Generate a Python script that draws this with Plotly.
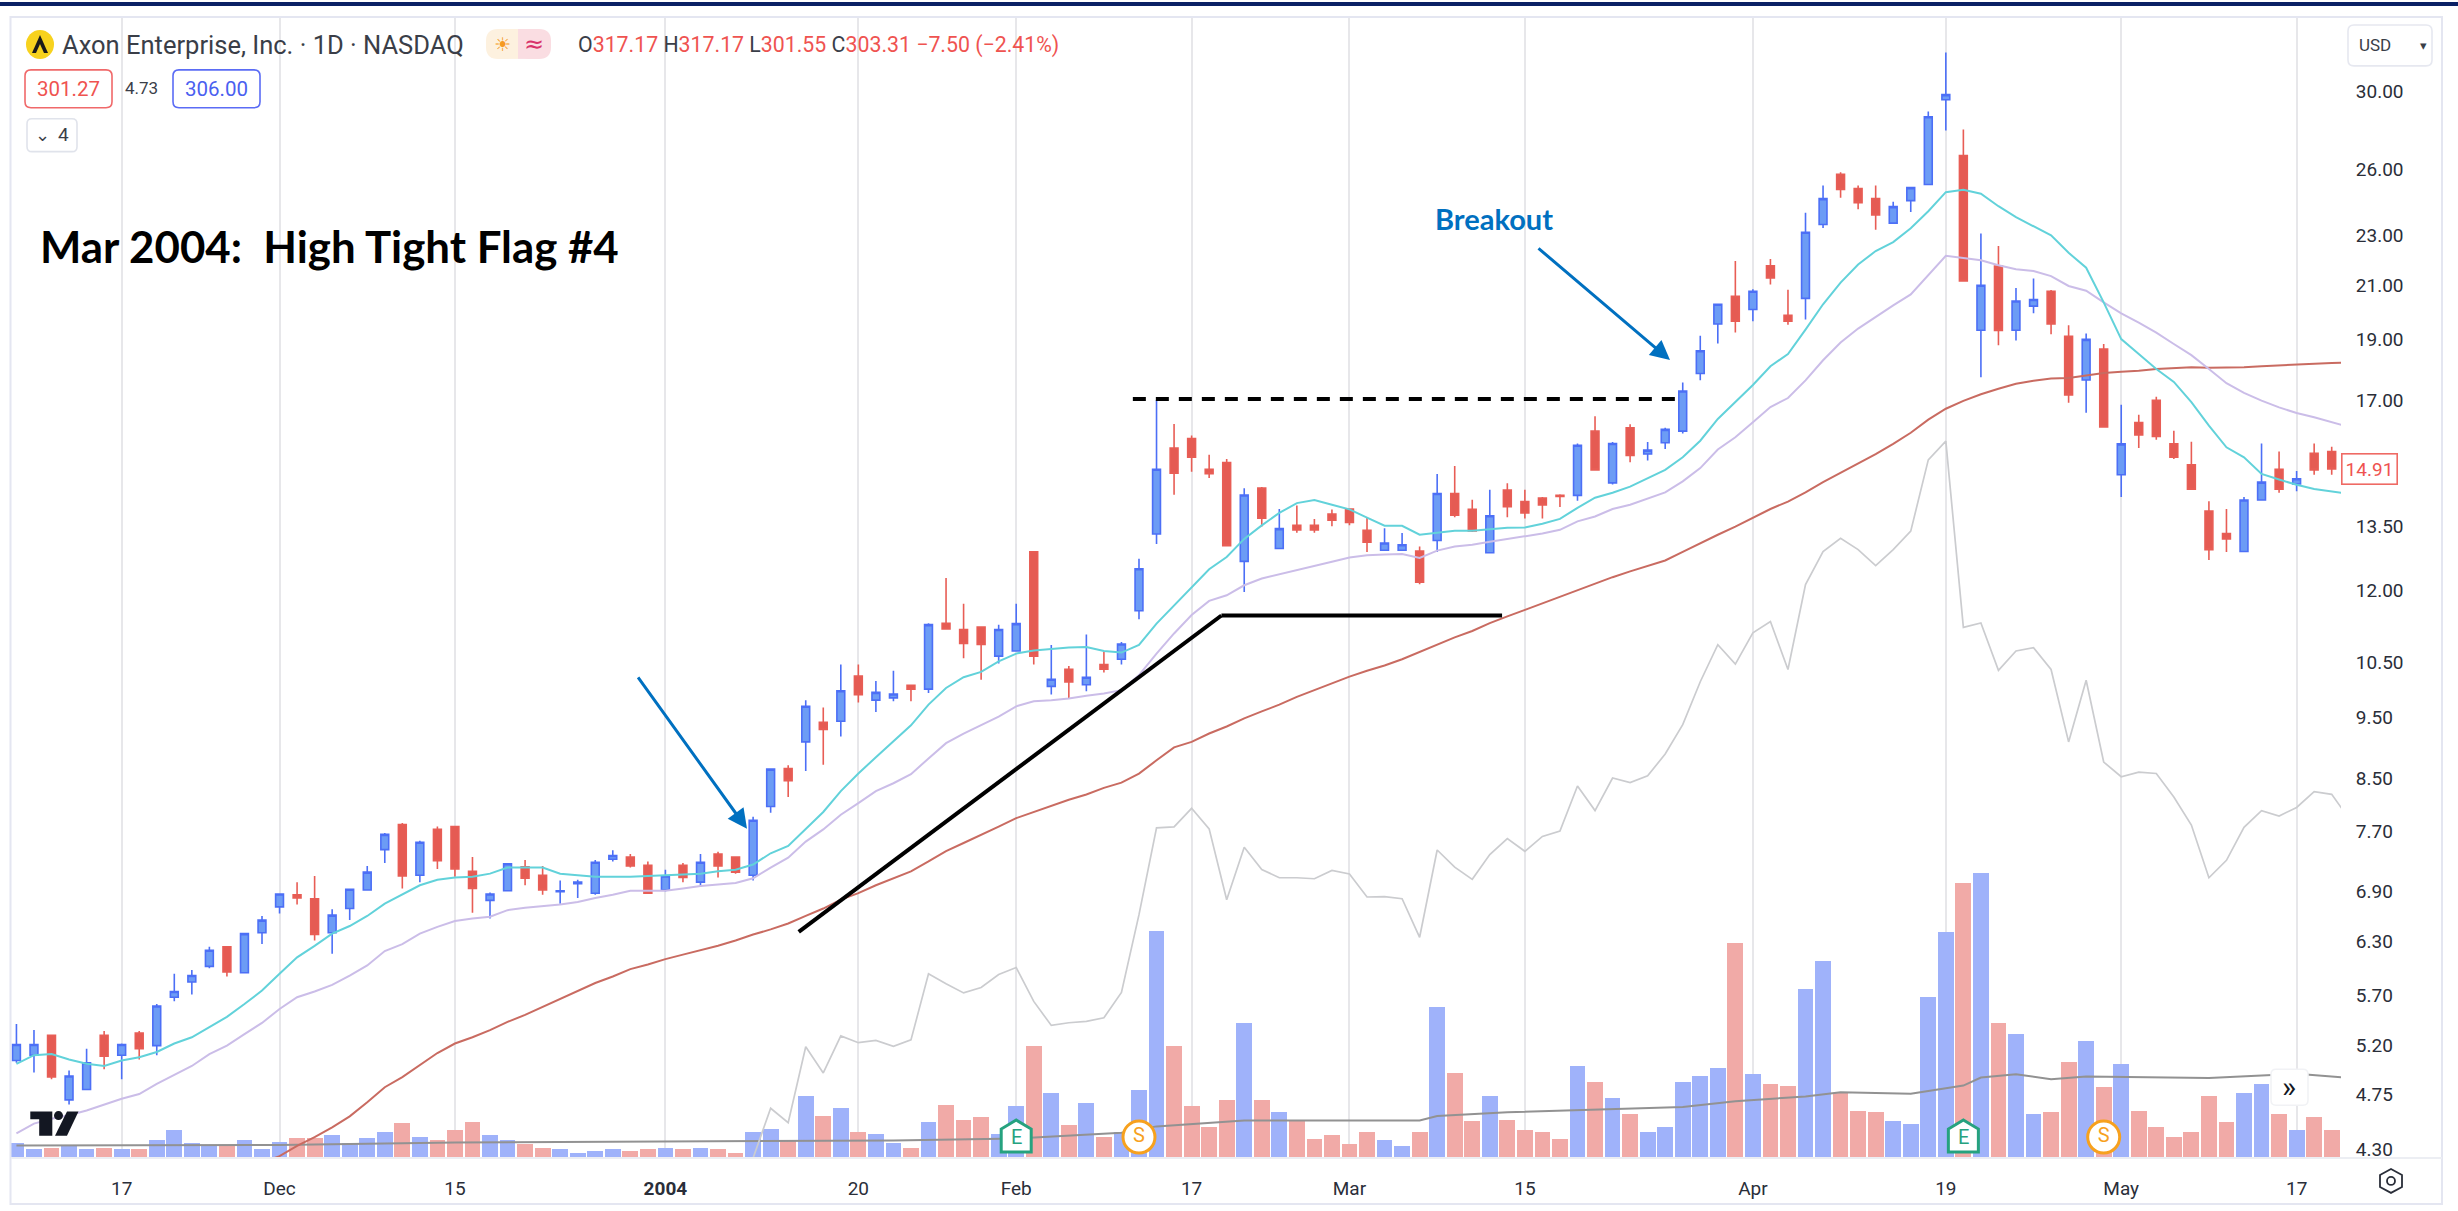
import math
import pandas as pd
import plotly.graph_objects as go

# ---------- data ----------
holidays = ["2003-11-27", "2003-12-25", "2004-01-01", "2004-01-19", "2004-02-16", "2004-04-09"]
sessions = [d.strftime("%Y-%m-%d") for d in pd.bdate_range("2003-11-07", "2004-05-20") if d.strftime("%Y-%m-%d") not in holidays]
candle_dates = sessions[:-1]

opens = [5.03,5.08,5.27,4.68,4.77,5.27,5.08,5.29,5.17,5.65,5.81,5.98,6.20,5.91,6.36,6.67,6.82,6.77,6.36,6.65,
 6.88,7.41,7.76,7.07,7.69,7.73,7.12,6.75,6.87,7.18,7.07,6.86,6.96,6.84,7.28,7.31,7.20,6.88,7.20,6.98,
 7.35,7.31,7.07,8.02,8.60,9.03,9.36,9.38,10.19,9.75,9.79,10.02,9.95,11.23,11.10,11.15,10.57,10.67,12.80,10.00,
 10.32,10.03,10.41,10.51,11.49,13.23,15.49,15.76,14.90,15.08,12.58,14.39,12.88,13.44,13.44,13.72,13.85,13.32,12.84,12.84,
 12.82,13.07,14.25,13.84,12.78,14.34,14.04,14.13,14.20,14.20,15.98,14.53,16.08,15.32,15.64,15.98,17.76,19.45,20.47,19.98,
 21.65,19.77,20.39,23.35,25.61,24.95,24.49,23.41,24.40,25.13,29.36,26.51,19.23,21.64,19.23,20.10,20.66,19.02,17.55,18.58,
 14.75,16.23,16.91,15.61,15.02,13.80,13.24,12.81,14.08,14.90,14.50,15.34,15.39]
highs = [5.38,5.32,5.27,4.94,5.14,5.31,5.19,5.31,5.58,5.90,5.94,6.20,6.20,6.35,6.56,6.83,6.98,7.06,6.64,6.89,
 7.19,7.64,7.78,7.53,7.73,7.73,7.31,6.85,7.22,7.27,7.19,7.00,7.01,7.27,7.40,7.35,7.25,7.14,7.23,7.35,
 7.38,7.31,7.87,8.59,8.65,9.75,9.62,10.41,10.41,10.10,10.29,10.02,11.23,12.20,11.64,11.16,11.20,11.64,12.80,10.79,
 10.38,11.00,10.66,10.85,12.64,16.92,16.19,15.85,15.30,15.18,14.39,14.42,13.85,13.94,13.60,13.84,13.85,13.64,13.37,13.25,
 12.93,14.77,14.99,14.09,14.35,14.52,14.35,14.16,14.23,15.62,16.42,15.66,16.18,15.66,16.08,17.47,19.04,20.17,21.84,20.73,
 21.92,20.72,23.86,25.09,25.70,25.09,25.09,24.35,25.00,28.74,32.02,27.80,22.97,22.45,20.78,21.15,20.71,19.41,19.12,18.75,
 16.77,16.47,17.02,15.99,15.67,14.05,13.85,14.16,15.62,15.39,14.85,15.62,15.53]
lows = [5.01,4.92,4.86,4.64,4.77,4.95,4.86,5.04,5.08,5.61,5.68,5.96,5.87,5.91,6.23,6.59,6.70,6.27,6.12,6.51,
 6.88,7.23,6.90,6.98,7.15,7.05,6.60,6.53,6.87,6.94,6.82,6.71,6.78,6.82,7.25,7.17,6.84,6.86,6.98,6.92,
 7.04,7.09,7.00,7.93,8.16,8.56,8.66,9.12,9.71,9.54,9.73,9.73,9.88,11.11,10.53,10.12,10.43,10.67,10.41,9.85,
 9.77,9.91,10.26,10.41,11.31,12.99,14.22,14.83,14.66,12.95,11.89,13.41,12.88,13.26,13.26,13.42,13.44,12.80,12.84,12.84,
 12.06,12.80,13.64,13.28,12.78,13.64,13.61,13.61,13.90,14.06,14.88,14.49,15.09,15.14,15.46,15.91,17.54,18.77,19.15,19.55,
 20.92,19.43,19.61,23.20,24.53,24.02,23.13,23.41,23.89,25.13,27.75,21.05,17.64,18.71,18.87,19.84,19.09,16.83,16.53,16.10,
 14.16,15.49,15.73,15.18,14.36,12.61,12.80,12.81,14.08,14.27,14.31,14.75,14.75]
closes = [5.18,5.18,4.88,4.89,5.01,5.07,5.18,5.14,5.56,5.71,5.88,6.16,5.92,6.35,6.51,6.83,6.78,6.34,6.57,6.89,
 7.11,7.62,7.06,7.51,7.26,7.15,6.90,6.83,7.22,7.03,6.88,6.87,6.98,7.24,7.33,7.19,6.84,7.06,7.04,7.24,
 7.19,7.11,7.82,8.59,8.41,9.64,9.24,9.92,9.85,9.89,9.86,9.95,11.20,11.11,10.82,10.80,11.10,11.22,10.57,10.13,
 10.08,10.17,10.32,10.81,12.41,14.90,14.79,15.23,14.78,12.95,14.21,13.62,13.36,13.33,13.33,13.57,13.51,13.03,13.01,12.97,
 12.11,14.25,13.69,13.30,13.68,13.91,13.75,13.95,14.17,15.57,14.88,15.62,15.28,15.43,16.03,17.20,18.52,20.17,19.55,20.66,
 21.17,19.55,23.02,24.49,24.90,24.31,23.76,24.13,24.99,28.46,29.64,21.05,20.89,19.22,20.29,20.35,19.45,17.08,18.91,16.10,
 15.61,15.87,15.82,15.23,14.36,12.85,13.11,14.08,14.55,14.36,14.64,14.88,14.91]

ema_fast = [5.00,5.08,5.09,5.04,5.00,4.98,5.03,5.06,5.11,5.19,5.25,5.35,5.45,5.58,5.72,5.90,6.08,6.21,6.35,6.44,
 6.56,6.71,6.82,6.94,7.01,7.04,7.05,7.09,7.17,7.17,7.17,7.09,7.07,7.05,7.05,7.05,7.06,7.07,7.08,7.09,
 7.12,7.14,7.21,7.36,7.46,7.70,7.94,8.25,8.52,8.78,9.04,9.31,9.67,9.97,10.17,10.27,10.47,10.62,10.68,10.71,
 10.74,10.75,10.67,10.64,10.79,11.22,11.60,11.98,12.40,12.68,13.11,13.44,13.75,14.00,14.08,13.96,13.84,13.63,13.43,13.43,
 13.21,13.26,13.31,13.31,13.34,13.38,13.39,13.48,13.60,13.88,14.14,14.27,14.43,14.65,14.88,15.23,15.70,16.34,16.85,17.39,
 18.00,18.41,19.25,20.17,20.99,21.70,22.24,22.61,23.19,23.93,24.78,24.89,24.71,24.15,23.67,23.28,22.89,22.17,21.57,20.24,
 18.92,18.41,17.91,17.49,16.85,16.14,15.51,15.23,14.77,14.62,14.48,14.37,14.30,14.24]
ema_slow = [4.40,4.48,4.52,4.55,4.59,4.64,4.69,4.73,4.82,4.90,4.98,5.09,5.17,5.28,5.39,5.53,5.65,5.71,5.78,5.88,
 5.99,6.15,6.23,6.35,6.43,6.50,6.53,6.55,6.63,6.66,6.68,6.70,6.73,6.78,6.82,6.87,6.87,6.87,6.90,6.93,
 6.95,6.97,7.03,7.17,7.30,7.52,7.69,7.90,8.07,8.25,8.37,8.51,8.76,9.01,9.17,9.32,9.46,9.64,9.73,9.75,
 9.78,9.83,9.87,9.93,10.21,10.62,11.02,11.40,11.70,11.82,12.04,12.19,12.28,12.37,12.47,12.57,12.67,12.72,12.74,12.75,
 12.66,12.83,12.93,12.97,13.04,13.11,13.18,13.24,13.33,13.54,13.66,13.85,13.96,14.11,14.28,14.57,14.93,15.45,15.80,16.24,
 16.70,16.98,17.54,18.20,18.80,19.29,19.71,20.13,20.54,21.28,22.05,21.96,21.87,21.67,21.51,21.44,21.24,20.86,20.68,20.24,
 19.84,19.50,19.15,18.75,18.37,17.91,17.45,17.14,16.90,16.69,16.52,16.39,16.24,16.10]
# starts at session 14
sma_long = [4.17,4.22,4.30,4.37,4.45,4.54,4.66,4.79,4.88,4.99,5.10,5.19,5.25,5.32,5.40,5.47,5.55,5.63,5.71,5.80,
 5.87,5.95,6.00,6.06,6.11,6.16,6.21,6.27,6.34,6.40,6.47,6.56,6.65,6.76,6.84,6.94,7.03,7.12,7.25,7.39,
 7.50,7.62,7.73,7.85,7.94,8.03,8.12,8.20,8.30,8.38,8.52,8.73,8.94,9.03,9.17,9.29,9.43,9.55,9.67,9.81,
 9.93,10.06,10.18,10.29,10.39,10.51,10.65,10.80,10.94,11.07,11.23,11.37,11.51,11.64,11.79,11.93,12.08,12.22,12.35,12.47,
 12.60,12.80,13.01,13.21,13.41,13.62,13.85,14.04,14.28,14.55,14.80,15.07,15.32,15.61,15.93,16.32,16.65,16.89,17.10,17.27,
 17.43,17.53,17.60,17.62,17.71,17.78,17.82,17.85,17.91,17.95,17.97,17.95,17.95,17.97,18.00,18.03,18.07,18.08,18.11,18.12]

volumes = [14.8,8.6,10.5,12.9,8.6,10.5,8.6,8.6,18.3,27.7,14.8,12.5,12.5,18.3,8.6,16.4,20.3,19.9,22.6,14.8,
 19.9,26.1,35.5,21.4,17.9,27.7,35.9,22.6,17.9,13.6,10.1,8.6,5.1,6.6,8.6,6.6,8.6,10.1,8.6,10.1,
 8.6,5.1,26.3,29.5,17.2,62.6,42.2,50.3,26.3,24.5,15.0,10.0,35.8,53.0,38.5,40.8,24.0,51.7,112.5,64.9,
 32.7,55.3,21.3,26.3,68.0,228.0,112.5,51.7,31.3,58.0,135.0,58.0,45.8,38.5,19.5,22.7,14.5,26.3,18.1,11.8,
 26.3,151.5,85.7,37.6,62.6,38.5,27.7,26.3,19.5,92.0,76.2,60.3,44.0,26.3,31.3,76.2,82.5,90.7,215.9,84.4,
 74.4,72.6,169.0,197.7,64.9,47.2,45.8,37.2,34.0,161.0,226.8,275.3,286.2,135.6,124.3,44.0,45.8,96.6,117.5,71.2,
 93.9,47.2,31.3,21.3,26.3,61.7,35.8,64.9,74.4,44.0,27.7,40.8,27.7]
vol_ma_sessions = [0,15,25,37,42,50,57,63,65,70,80,81,85,89,95,98,102,104,108,111,112,114,116,118,125,130,133]
vol_ma_values = [12.5,13.0,15.6,16.6,16.8,17.5,19.5,25.4,31.7,37.6,37.6,42.0,45.8,48.0,51.2,57.0,61.7,66.0,64.4,72.6,80.7,83.9,79.0,81.6,80.3,84.4,80.3]
# starts at session 42
rs_line = [0,49.9,35.4,111.6,85.3,122.4,115.6,117.9,112.0,118.4,184.6,174.6,165.5,171.0,184.0,191.0,157.0,132.9,135.6,137.0,
 140.6,166.0,244.0,331.0,332.0,350.6,330.0,259.0,311.6,289.3,281.0,281.0,280.0,288.4,284.8,261.7,262.0,260.0,221.3,308.8,
 291.6,279.4,304.3,320.2,307.5,322.4,327.9,373.0,348.3,381.0,376.4,383.2,405.0,434.5,477.5,514.7,495.2,526.5,537.9,489.8,
 575.0,608.0,621.3,610.0,594.0,610.0,628.5,700.0,718.7,532.0,536.5,489.0,508.4,511.6,489.8,417.2,479.0,397.0,382.3,386.8,
 385.5,362.0,333.8,281.0,298.5,331.5,348.3,342.9,351.5,367.3,364.6,340.0]

price_ticks = [4.30,4.75,5.20,5.70,6.30,6.90,7.70,8.50,9.50,10.50,12.00,13.50,17.00,19.00,21.00,23.00,26.00,30.00]
time_tick_dates = ["2003-11-17","2003-12-01","2003-12-15","2004-01-02","2004-01-20","2004-02-02","2004-02-17","2004-03-01","2004-03-15","2004-04-01","2004-04-19","2004-05-03","2004-05-17"]
time_tick_labels = ["17","Dec","15","<b>2004</b>","20","Feb","17","Mar","15","Apr","19","May","17"]
earnings_sessions = [57, 111]
split_sessions = [64, 119]
event_level = 21

flag_top_price = 16.95
flag_top_sessions = [63.65, 95.0]
pole_sessions = [44.6, 68.7, 84.7]
pole_prices = [6.37, 11.39, 11.39]

# ---------- layout constants ----------
W, H = 2458, 1211
L, R, T, B = 11, 2341, 18, 1161
PLOT_H = B - T
def px(x): return (x - L) / (R - L)
def py(y): return (B - y) / PLOT_H

BLUE_FILL, BLUE_LINE = "#6c9cf5", "#4c6ff6"
RED_FILL, RED_LINE = "#e55b53", "#e85d55"
TXT = "#2a2e39"
RED_TXT = "#ef5350"
BLUE_TXT = "#4a60f0"
ARROW = "#0070c0"
GREEN_E = "#26a27f"
ORANGE_S = "#f7a11e"

fig = go.Figure()

vol_colors = ["#9fb2fa" if c >= o else "#f1aaa7" for o, c in zip(opens, closes)]
fig.add_trace(go.Bar(x=candle_dates, y=volumes, marker_color=vol_colors, marker_line_width=0,
                     width=0.9, yaxis="y2", name="Volume"))
fig.add_trace(go.Scatter(x=[sessions[i] for i in vol_ma_sessions], y=vol_ma_values, yaxis="y2", mode="lines",
                         line=dict(color="#929292", width=2), name="Vol MA"))
fig.add_trace(go.Scatter(x=sessions[42:], y=rs_line, yaxis="y2", mode="lines",
                         line=dict(color="#cbcccf", width=1.7), name="RS"))
fig.add_trace(go.Scatter(x=[sessions[i] for i in split_sessions], y=[event_level] * 2, yaxis="y2", mode="markers+text",
                         text=["S", "S"], textposition="middle center",
                         textfont=dict(family="Roboto", size=20, color=ORANGE_S),
                         marker=dict(symbol="circle", size=32, color="white", line=dict(color=ORANGE_S, width=3)),
                         name="Split"))

fig.add_trace(go.Scatter(x=sessions[14:], y=sma_long, mode="lines", line=dict(color="#c96b61", width=2), name="SMA"))
fig.add_trace(go.Scatter(x=sessions, y=ema_slow, mode="lines", line=dict(color="#cbbde8", width=2), name="EMA slow"))
fig.add_trace(go.Scatter(x=sessions, y=ema_fast, mode="lines", line=dict(color="#62d2da", width=2), name="EMA fast"))
fig.add_trace(go.Candlestick(x=candle_dates, open=opens, high=highs, low=lows, close=closes,
                             increasing=dict(fillcolor=BLUE_FILL, line=dict(color=BLUE_LINE, width=1.6)),
                             decreasing=dict(fillcolor=RED_FILL, line=dict(color=RED_LINE, width=1.6)),
                             whiskerwidth=0, name="AXON"))

shapes = []
def pshape(kind, x0, y0, x1, y1, **kw):
    shapes.append(dict(type=kind, xref="paper", yref="paper", x0=px(x0), x1=px(x1), y0=py(y0), y1=py(y1), **kw))
def ppath(points, **kw):
    d = "M" + " L".join(f"{px(x):.5f},{py(y):.5f}" for x, y in points) + " Z"
    shapes.append(dict(type="path", xref="paper", yref="paper", path=d, **kw))
def rrect(x0, y0, x1, y1, r, **kw):
    d = (f"M{px(x0+r):.5f},{py(y0):.5f} L{px(x1-r):.5f},{py(y0):.5f} Q{px(x1):.5f},{py(y0):.5f} {px(x1):.5f},{py(y0+r):.5f} "
         f"L{px(x1):.5f},{py(y1-r):.5f} Q{px(x1):.5f},{py(y1):.5f} {px(x1-r):.5f},{py(y1):.5f} "
         f"L{px(x0+r):.5f},{py(y1):.5f} Q{px(x0):.5f},{py(y1):.5f} {px(x0):.5f},{py(y1-r):.5f} "
         f"L{px(x0):.5f},{py(y0+r):.5f} Q{px(x0):.5f},{py(y0):.5f} {px(x0+r):.5f},{py(y0):.5f} Z")
    shapes.append(dict(type="path", xref="paper", yref="paper", path=d, **kw))

# page chrome
pshape("rect", 0, 2, W, 6, fillcolor="#0a2165", line_width=0)
pshape("rect", 10.5, 17, 2442, 1207, line=dict(color="#e4e6f1", width=2), fillcolor="rgba(0,0,0,0)")
pshape("line", L, 1161, 2442, 1161, line=dict(color="#eceef3", width=2))

# flag drawing, on the chart's scales
shapes.append(dict(type="line", xref="x", yref="y", x0=flag_top_sessions[0], x1=flag_top_sessions[1],
                   y0=flag_top_price, y1=flag_top_price, line=dict(color="black", width=4, dash="13px,10px")))
for a, b in ((0, 1), (1, 2)):
    shapes.append(dict(type="line", xref="x", yref="y", x0=pole_sessions[a], x1=pole_sessions[b],
                       y0=pole_prices[a], y1=pole_prices[b], line=dict(color="black", width=4)))

# earnings flags (house outline), placed on the time axis
for s in earnings_sessions:
    shapes.append(dict(type="path", xref="x", yref="y2", xsizemode="pixel", ysizemode="pixel",
                       xanchor=sessions[s], yanchor=event_level, path="M0,17 L15,8 L15,-15 L-15,-15 L-15,8 Z",
                       fillcolor="white", line=dict(color=GREEN_E, width=3)))

# header widgets
shapes.append(dict(type="circle", xref="paper", yref="paper", x0=px(26), x1=px(54), y0=py(30), y1=py(59),
                   fillcolor="#f7d21e", line_width=0))
ppath([(40, 35), (48, 53), (32, 53)], fillcolor="#1a1a1a", line_width=0)
ppath([(40, 44), (44, 53), (36, 53)], fillcolor="#f7d21e", line_width=0)
rrect(486, 29, 518, 59, 12, fillcolor="#fdf1df", line_width=0)
rrect(518, 29, 551, 59, 12, fillcolor="#fadde2", line_width=0)
pshape("rect", 505, 29, 518, 59, fillcolor="#fdf1df", line_width=0)
pshape("rect", 518, 29, 531, 59, fillcolor="#fadde2", line_width=0)
rrect(25, 70, 112, 108, 6, fillcolor="white", line=dict(color="#f0696a", width=1.6))
rrect(173, 70, 260, 108, 6, fillcolor="white", line=dict(color="#5b6cf5", width=1.6))
rrect(27, 119, 77, 152, 5, fillcolor="white", line=dict(color="#e0e3eb", width=1.6))
rrect(2348, 25, 2432, 66, 6, fillcolor="white", line=dict(color="#e6e8f0", width=1.6))
rrect(2271, 1072, 2308, 1108, 5, fillcolor="white", line=dict(color="#f1f2f5", width=1.5))

# chart-maker logo
ppath([(30.3, 1114.4), (52.3, 1114.4), (52.3, 1138.6), (39.2, 1138.6), (39.2, 1122.2), (30.3, 1122.2)], fillcolor="#131722", line_width=0)
ppath([(78.5, 1114.4), (67, 1114.4), (55, 1138.6), (67, 1138.6)], fillcolor="#131722", line_width=0)
shapes.append(dict(type="circle", xref="paper", yref="paper", x0=px(54), x1=px(63), y0=py(1114), y1=py(1123), fillcolor="#131722", line_width=0))

# settings icon
ppath([(2391, 1172), (2402, 1178), (2402, 1190), (2391, 1196), (2380, 1190), (2380, 1178)],
      fillcolor="rgba(0,0,0,0)", line=dict(color="#2a2e39", width=1.8))
shapes.append(dict(type="circle", xref="paper", yref="paper", x0=px(2387), x1=px(2395), y0=py(1180), y1=py(1188),
                   fillcolor="rgba(0,0,0,0)", line=dict(color="#2a2e39", width=1.8)))

anns = []
def text(x, y, s, size=21, color=TXT, family="Roboto", anchor="left"):
    anns.append(dict(xref="paper", yref="paper", x=px(x), y=py(y), text=s, showarrow=False, xanchor=anchor, yanchor="middle",
                     font=dict(family=family, size=size, color=color)))

text(60, 45, "Axon Enterprise, Inc. · 1D · NASDAQ", size=25.5, color="#3a3e48")
text(502, 44, "☀", size=19, color="#f59a23", family="DejaVu Sans", anchor="center")
text(534, 44, "≈", size=24, color="#d8326a", family="DejaVu Sans", anchor="center")
r = lambda s: f"<span style='color:{RED_TXT}'>{s}</span>"
text(576, 45, "O" + r("317.17") + " H" + r("317.17") + " L" + r("301.55") + " C" + r("303.31 −7.50 (−2.41%)"), size=21.3, color="#3a3e48")
text(68.5, 89, "301.27", size=20.5, color=RED_TXT, anchor="center")
text(141.5, 88, "4.73", size=17, color="#3a3e48", anchor="center")
text(216.5, 89, "306.00", size=20.5, color=BLUE_TXT, anchor="center")
text(42, 135, "⌄", size=18, color="#3a3e48", family="DejaVu Sans", anchor="center")
text(63, 135, "4", size=19, color="#3a3e48", anchor="center")
text(2357, 45, "USD", size=17, color="#3a3e48")
text(2423, 46, "▾", size=13, color="#3a3e48", family="DejaVu Sans", anchor="center")
text(2289, 1089, "»", size=30, color="#131722", anchor="center")
text(38, 247, "<b>Mar 2004:  High Tight Flag #4</b>", size=43.8, color="black", family="Lato")
text(1433, 219, "<b>Breakout</b>", size=29, color=ARROW, family="Lato")

for s in earnings_sessions:
    anns.append(dict(xref="x", yref="y2", x=sessions[s], y=event_level, text="E", showarrow=False,
                     font=dict(family="Roboto", size=20, color=GREEN_E)))

# last-price tag
anns.append(dict(xref="paper", yref="y", x=px(2341), y=math.log10(closes[-1]), text=f"{closes[-1]:.2f}", showarrow=False,
                 xanchor="left", yanchor="middle", bgcolor="white", bordercolor="#ef6a64", borderwidth=1.6, borderpad=3,
                 font=dict(family="Roboto", size=19, color=RED_TXT)))

# arrows
for (x0, y0, x1, y1) in ((637, 678, 747, 831), (1537, 248, 1670, 361)):
    anns.append(dict(xref="paper", yref="paper", x=px(x1), y=py(y1), ax=x0 - x1, ay=y0 - y1, axref="pixel", ayref="pixel",
                     text="", showarrow=True, arrowhead=2, arrowsize=1.3, arrowwidth=3, arrowcolor=ARROW, standoff=0, startstandoff=0))

fig.update_layout(
    width=W, height=H, autosize=False, showlegend=False, paper_bgcolor="white", plot_bgcolor="white",
    margin=dict(l=L, r=W - R, t=T, b=H - B, pad=0), boxgap=0.36, bargap=0, barmode="overlay",
    hovermode=False, shapes=shapes, annotations=anns,
    xaxis=dict(type="category", categoryorder="array", categoryarray=sessions, range=[-0.31, 132.53],
               rangeslider=dict(visible=False), tickmode="array", tickvals=time_tick_dates, ticktext=time_tick_labels,
               showgrid=True, gridcolor="#e7e7ea", gridwidth=1.5, ticks="outside", ticklen=13, tickcolor="rgba(0,0,0,0)",
               tickfont=dict(family="Roboto", size=19, color=TXT), zeroline=False, showline=False),
    yaxis=dict(type="log", overlaying="y2", side="right", range=[math.log10(4.206), math.log10(34.12)],
               tickmode="array", tickvals=price_ticks, ticktext=[f"{v:.2f}" for v in price_ticks], showgrid=False,
               ticks="outside", ticklen=10, tickcolor="rgba(0,0,0,0)", zeroline=False, showline=False,
               ticklabelshift=3, tickfont=dict(family="Roboto", size=19, color=TXT)),
    yaxis2=dict(range=[0, PLOT_H], visible=False, fixedrange=True),
)

fig.write_html("out.html", config={"displayModeBar": False},
               post_script="document.body.style.margin='0';document.body.style.overflow='hidden';")
